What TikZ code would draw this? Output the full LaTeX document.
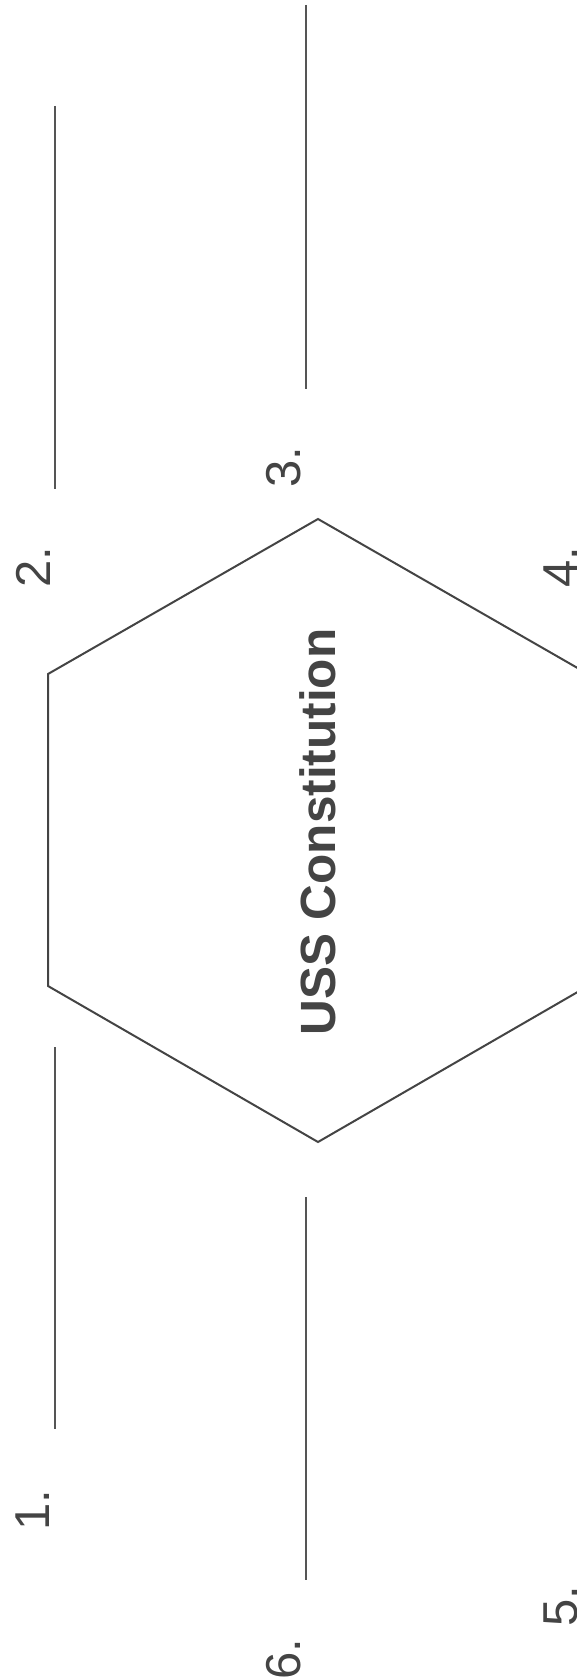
\documentclass[tikz,border=0pt]{standalone}
\usepackage{fontspec}
\setmainfont{Liberation Sans}
\usepackage{tikz}
\usetikzlibrary{positioning}
\definecolor{inkgray}{HTML}{444444}
\definecolor{linegray}{HTML}{555555}

\begin{document}
\begin{tikzpicture}[
  x=1pt, y=-1pt,
  numlabel/.style={rotate=90, inner sep=0pt, text=inkgray, font=\fontsize{49}{49}\selectfont},
  blank/.style={linegray, line width=1.3pt},
]
\clip (0,0) rectangle (577,1680);

% --- Hexagon ---
\draw[inkgray, line width=2pt] (318,519) -- (588,674) -- (588,986) -- (318,1142)
  -- (48,986) -- (48,674) -- cycle;
\node[rotate=90, inner sep=0pt, text=inkgray, font=\bfseries\fontsize{49.5}{49.5}\selectfont]
  (title) at (318,832) {USS Constitution};

% --- Answer lines ---
\draw[blank] (55,106) -- (55,489);
\draw[blank] (55,1047) -- (55,1429);
\draw[blank] (306,5) -- (306,389);
\draw[blank] (306,1197) -- (306,1580);

% --- Numbers ---
\node[numlabel] (n1) at (33,1510) {1.};
\node[numlabel] (n2) at (33,567) {2.};
\node[numlabel] (n3) at (284,467) {3.};
\node[numlabel] (n4) at (561,567) {4.};
\node[numlabel] (n5) at (561,1606) {5.};
\node[numlabel] (n6) at (284,1659) {6.};

\end{tikzpicture}
\end{document}
